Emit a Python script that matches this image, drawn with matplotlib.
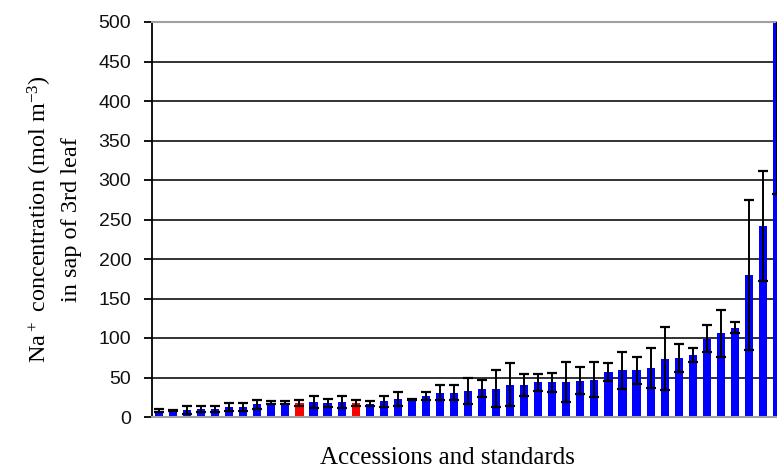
import numpy as np
import matplotlib.pyplot as plt

# Na+ concentration in sap of 3rd leaf, one bar per accession/standard (sorted)
na_conc = [8, 8, 9, 10, 10, 13, 13, 16, 18, 18,
           18, 19, 18, 19, 18, 17, 20, 23, 22, 27,
           31, 31, 33, 36, 36, 41, 41, 44, 44, 44,
           46, 47, 57, 59, 59, 62, 74, 75, 78, 99,
           106, 113, 180, 242, 540]
na_err = [2, 1, 5, 4, 4, 5, 5, 6, 2, 2,
          4, 8, 5, 8, 4, 3, 7, 9, 1, 5,
          9, 10, 16, 11, 23, 27, 14, 11, 12, 25,
          17, 22, 11, 23, 17, 25, 40, 18, 9, 17,
          30, 7, 95, 70, 258]
# standards shown in red
standards = [10, 14]

colours = ['#ff0000' if i in standards else '#0000ff' for i in range(len(na_conc))]
x = np.arange(len(na_conc))

fig = plt.figure(figsize=(7.77, 4.68), dpi=100)
ax = fig.add_axes([152/777, 51/468, 632/777, 395/468])

for yv in range(50, 500, 50):
    ax.axhline(yv, color='#222222', lw=1.3, zorder=0)

ax.bar(x, na_conc, width=0.58, color=colours, zorder=2)
ax.errorbar(x, na_conc, yerr=na_err, fmt='none', ecolor='black',
            elinewidth=1.4, capsize=3.6, capthick=1.6, zorder=3)

ax.set_xlim(-0.5, len(na_conc) - 0.5)
ax.set_ylim(0, 500)
ax.set_yticks(range(0, 501, 50))
ax.set_xticks([])

ax.spines['right'].set_visible(False)
ax.spines['top'].set_color('#a0a0a0')
ax.spines['top'].set_linewidth(1.5)
ax.spines['bottom'].set_color('#a0a0a0')
ax.spines['bottom'].set_linewidth(1.5)
ax.spines['left'].set_color('black')
ax.spines['left'].set_linewidth(1.3)

ax.tick_params(axis='y', direction='out', length=6, width=1.3, pad=9,
               labelsize=14, labelcolor='#111111')
for lbl in ax.get_yticklabels():
    lbl.set_family('Liberation Sans')

ax.set_ylabel('$\\mathregular{Na^+}$ concentration (mol m$\\mathregular{^{-3}}$)\nin sap of 3rd leaf',
              family='Liberation Serif', fontsize=17.5, linespacing=1.45)
ax.yaxis.set_label_coords(-0.111, 0.5)
ax.set_xlabel('Accessions and standards', family='Liberation Serif', fontsize=18)
ax.xaxis.set_label_coords(0.468, -0.075)

fig.savefig('out.png', dpi=100)
